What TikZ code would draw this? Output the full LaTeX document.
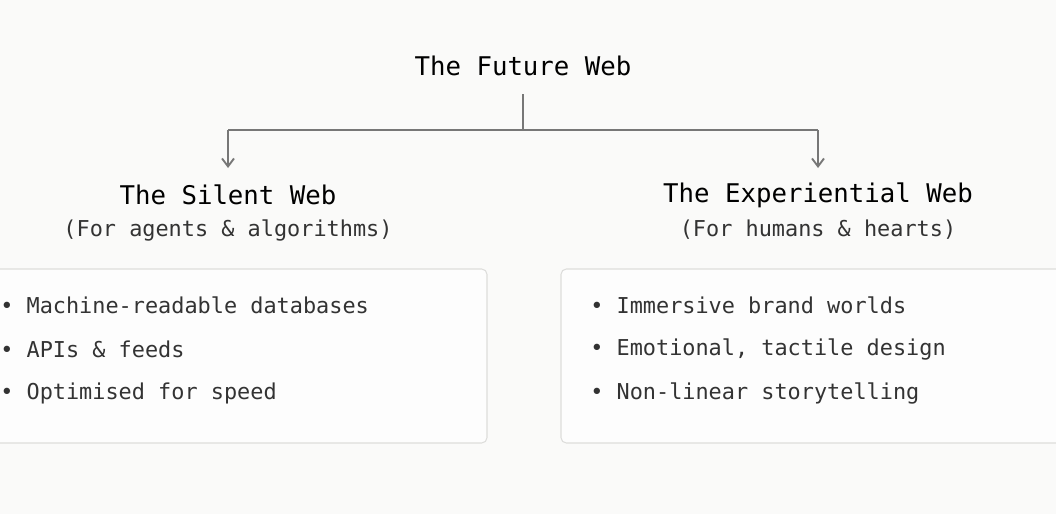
\documentclass[tikz,border=0pt]{standalone}
\usepackage{fontspec}
\setmonofont{DejaVu Sans Mono}
\usetikzlibrary{arrows.meta}
\definecolor{bg}{HTML}{FAFAF9}
\definecolor{ln}{HTML}{777777}
\definecolor{bd}{HTML}{DDDDDB}
\definecolor{tx}{HTML}{333333}
\begin{document}
\begin{tikzpicture}[x=0.75pt,y=-0.75pt,
  head/.style={font=\ttfamily\fontsize{19.3}{22}\selectfont,text=black,inner sep=0},
  sub/.style={font=\ttfamily\fontsize{16.4}{19}\selectfont,text=tx,inner sep=0},
  item/.style={font=\ttfamily\fontsize{16.4}{19}\selectfont,text=tx,inner sep=0,anchor=west},
  box/.style={draw=bd,fill=white!60!bg,rounded corners=4pt,line width=0.8pt},
  conn/.style={draw=ln,line width=1.4pt},
  arr/.style={conn,-{Straight Barb[length=6pt,width=9pt]}}]
\fill[bg] (0,0) rectangle (1056,514);
\useasboundingbox (0,0) rectangle (1056,514);
\node[head] (top) at (523,66) {The Future Web};
\node[head] (sil) at (228,195) {The Silent Web};
\node[sub] (silsub) at (228,230) {(For agents \& algorithms)};
\node[head] (exp) at (818,195) {The Experiential Web};
\node[sub] (expsub) at (818,230) {(For humans \& hearts)};
\coordinate (a) at (523,94);
\coordinate (j) at (523,130);
\coordinate (l) at (228,130);
\coordinate (r) at (818,130);
\coordinate (le) at (228,168);
\coordinate (re) at (818,168);
\draw[conn] (a) -- (j);
\draw[conn] (l) -- (r);
\draw[arr] (l) -- (le);
\draw[arr] (r) -- (re);
\draw[box] (-6,269) rectangle (487,443);
\draw[box] (561,269) rectangle (1062,443);
\node[item] (l1) at (0,305) {• Machine-readable databases};
\node[item] (l2) at (0,349) {• APIs \& feeds};
\node[item] (l3) at (0,393) {• Optimised for speed};
\node[item] (r1) at (590,305) {• Immersive brand worlds};
\node[item] (r2) at (590,349) {• Emotional, tactile design};
\node[item] (r3) at (590,393) {• Non-linear storytelling};
\end{tikzpicture}
\end{document}
